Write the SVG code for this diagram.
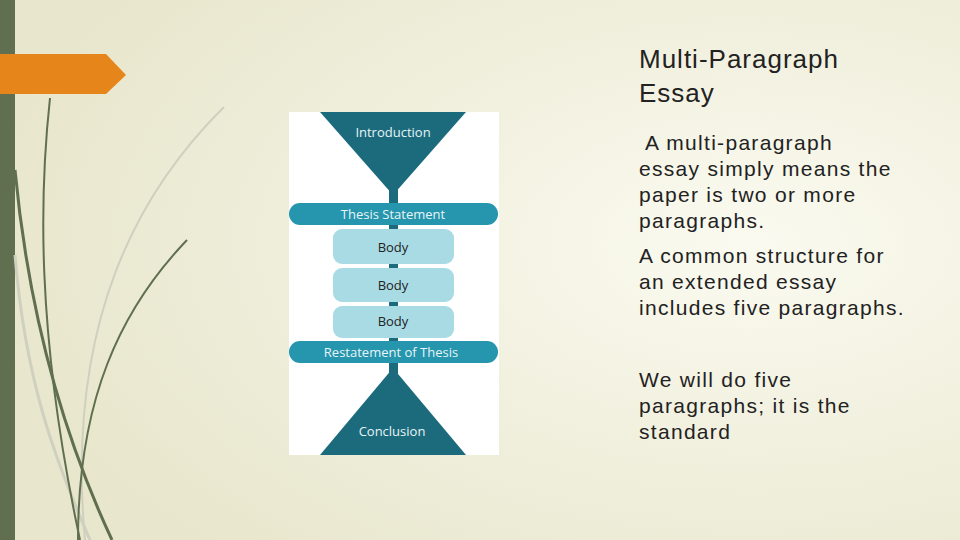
<svg xmlns="http://www.w3.org/2000/svg" width="960" height="540" viewBox="0 0 960 540">
<defs>
<radialGradient id="bg" cx="0.78" cy="0.45" r="0.8">
<stop offset="0" stop-color="#fafaf0"/><stop offset="1" stop-color="#e8e6cc"/>
</radialGradient>
<style>
.t{font-family:"Open Sans","Liberation Sans",sans-serif;font-size:13px;text-anchor:middle}
.w{fill:#e8f4f7}.d{fill:#222}
.p{font-family:"Liberation Sans",Arial,sans-serif;font-size:21px;letter-spacing:1.3px;fill:#222}
.h{font-size:26px;letter-spacing:1px}
.g{fill:none;stroke:#5f6f4f}
.l{fill:none;stroke:#cfd0bf}
</style>
</defs>
<rect width="960" height="540" fill="url(#bg)"/>
<rect x="0" y="0" width="15" height="540" fill="#606f50"/>
<polygon points="0,54 106,54 126,75 106,94 0,94" fill="#e6861a"/>
<g id="grass">
<path class="l" stroke-width="2" d="M224,107 C140,190 65,320 85,540"/>
<path class="l" stroke-width="3" d="M15,255 C25,380 55,460 90,540"/>
<path class="g" stroke-width="2" d="M50,98 C40,190 35,330 80,540"/>
<path class="g" stroke-width="3" d="M15,170 C30,330 70,450 112,540"/>
<path class="g" stroke-width="2" d="M187,240 C120,310 78,400 78,540"/>
</g>
<rect x="289" y="112" width="210" height="343" fill="#ffffff"/>
<g id="connectors"><rect x="389" y="180" width="9" height="195" fill="#1b6b7c"/></g>
<g id="intro"><polygon points="320,112 466,112 393,195" fill="#1b6b7c"/><text class="t w" x="393" y="137">Introduction</text></g>
<g id="thesis"><rect x="289" y="203" width="209" height="22" rx="11" fill="#2596ae"/><text class="t w" x="393" y="219">Thesis Statement</text></g>
<g id="body1"><rect x="333" y="229" width="121" height="35" rx="9" fill="#a9dbe4"/><text class="t d" x="393" y="252">Body</text></g>
<g id="body2"><rect x="333" y="268" width="121" height="34" rx="9" fill="#a9dbe4"/><text class="t d" x="393" y="290">Body</text></g>
<g id="body3"><rect x="333" y="306" width="121" height="32" rx="9" fill="#a9dbe4"/><text class="t d" x="393" y="326">Body</text></g>
<g id="restate"><rect x="289" y="341" width="209" height="22" rx="11" fill="#2596ae"/><text class="t w" x="391" y="357">Restatement of Thesis</text></g>
<g id="conclusion"><polygon points="393,368 466,455 320,455" fill="#1b6b7c"/><text class="t w" x="392" y="436">Conclusion</text></g>
<g id="text">
<text class="p h" x="639" y="68">Multi-Paragraph</text>
<text class="p h" x="639" y="102">Essay</text>
<text class="p" x="645" y="150">A multi-paragraph</text>
<text class="p" x="639" y="176">essay simply means the</text>
<text class="p" x="639" y="202">paper is two or more</text>
<text class="p" x="639" y="228">paragraphs.</text>
<text class="p" x="639" y="263">A common structure for</text>
<text class="p" x="639" y="289">an extended essay</text>
<text class="p" x="639" y="315">includes five paragraphs.</text>
<text class="p" x="639" y="387">We will do five</text>
<text class="p" x="639" y="413">paragraphs; it is the</text>
<text class="p" x="639" y="439">standard</text>
</g>
</svg>
